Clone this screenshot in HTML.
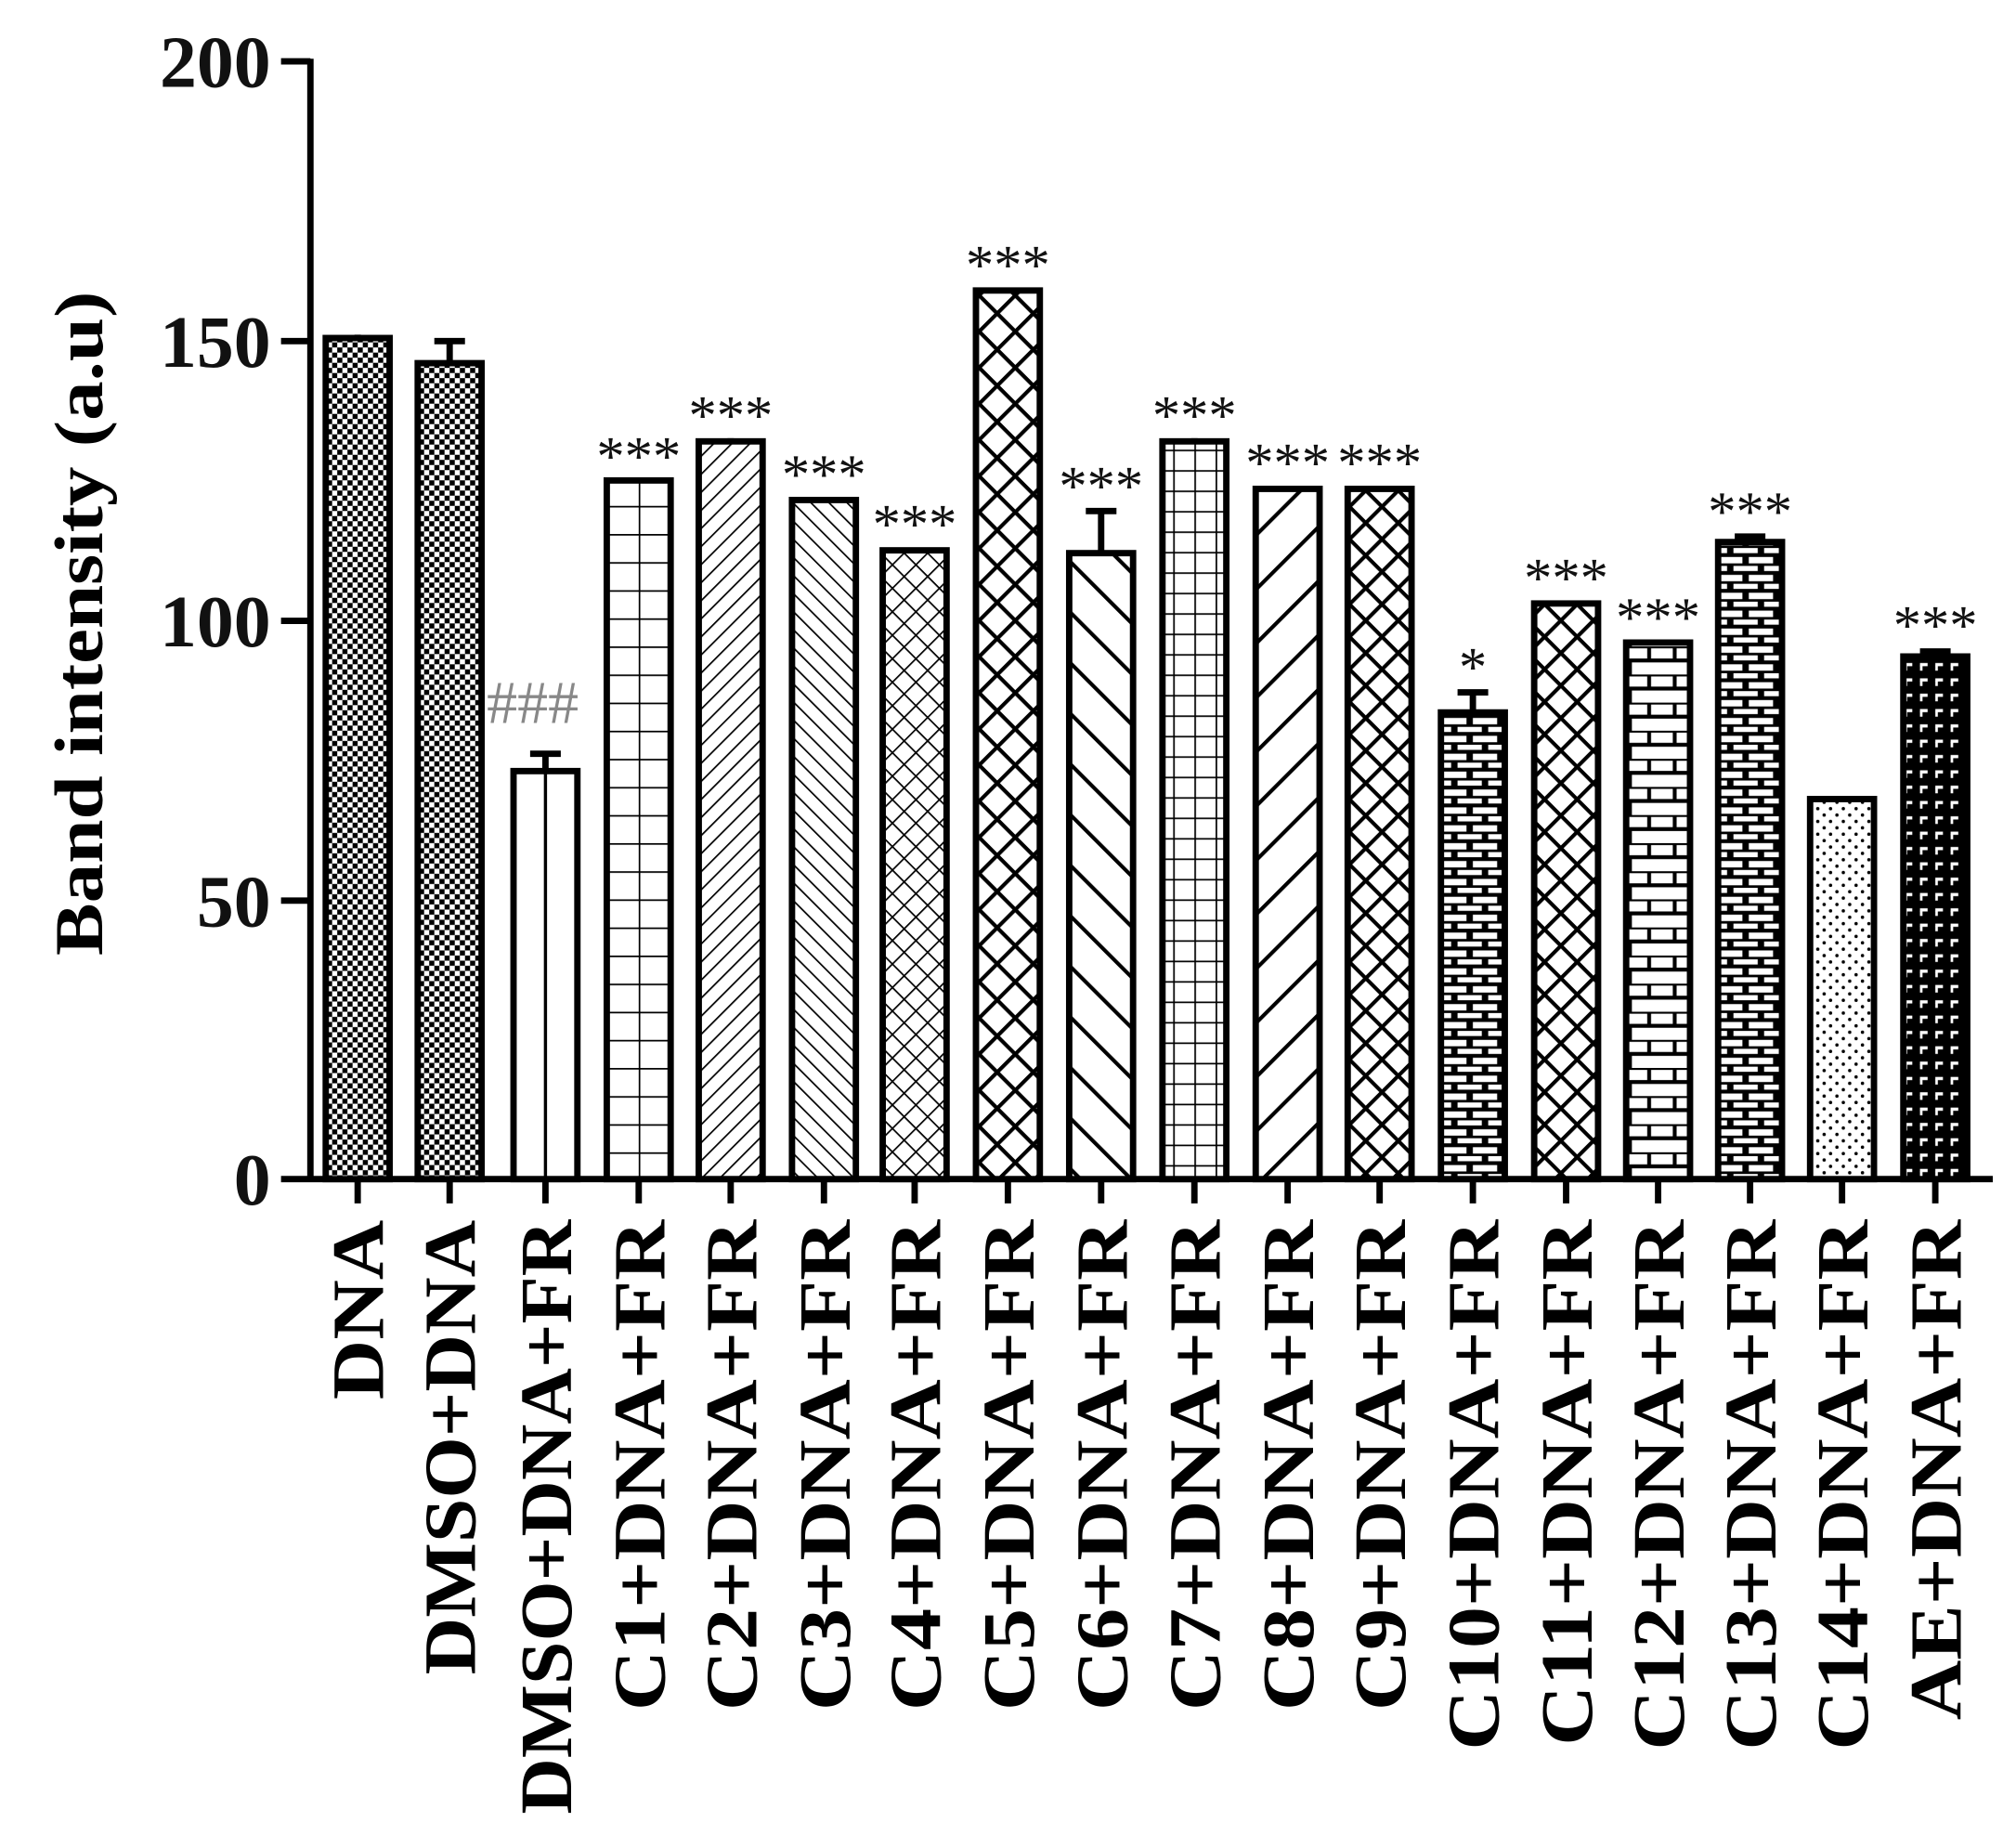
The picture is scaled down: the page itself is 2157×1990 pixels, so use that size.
<!DOCTYPE html>
<html><head><meta charset="utf-8"><style>html,body{margin:0;padding:0;background:#fff}svg{display:block}</style></head>
<body>
<svg width="2157" height="1990" viewBox="0 0 1568 1446.6" xmlns="http://www.w3.org/2000/svg" font-family="Liberation Serif, serif">
<defs>
<pattern id="chk" width="8" height="8" patternUnits="userSpaceOnUse"><rect width="8" height="8" fill="#fff"/><rect width="4" height="4" fill="#000"/><rect x="4" y="4" width="4" height="4" fill="#000"/></pattern>
<pattern id="grid1" x="500" width="25" height="22" patternUnits="userSpaceOnUse"><rect width="25" height="22" fill="#fff"/><path d="M0 0H25M0 0V22" stroke="#000" stroke-width="2.5"/></pattern>
<pattern id="dg1" width="10" height="10" patternUnits="userSpaceOnUse" patternTransform="rotate(45)"><rect width="10" height="10" fill="#fff"/><path d="M0 0V10" stroke="#000" stroke-width="2.5"/></pattern>
<pattern id="dg2" width="10" height="10" patternUnits="userSpaceOnUse" patternTransform="rotate(-45)"><rect width="10" height="10" fill="#fff"/><path d="M0 0V10" stroke="#000" stroke-width="2.5"/></pattern>
<pattern id="xs" width="13" height="13" patternUnits="userSpaceOnUse" patternTransform="rotate(45)"><rect width="13" height="13" fill="#fff"/><path d="M0 0V13M0 0H13" stroke="#000" stroke-width="2.5"/></pattern>
<pattern id="xb" x="764" width="20" height="20" patternUnits="userSpaceOnUse" patternTransform="rotate(45)"><rect width="20" height="20" fill="#fff"/><path d="M0 0V20M0 0H20" stroke="#000" stroke-width="6"/></pattern>
<pattern id="dt1" width="28" height="28" patternUnits="userSpaceOnUse" patternTransform="rotate(-45)"><rect width="28" height="28" fill="#fff"/><path d="M0 0V28" stroke="#000" stroke-width="6"/></pattern>
<pattern id="grid2" x="935" width="16.6" height="16" patternUnits="userSpaceOnUse"><rect width="17" height="16" fill="#fff"/><path d="M0 0H17M0 0V16" stroke="#000" stroke-width="2.5"/></pattern>
<pattern id="dt2" width="30" height="30" patternUnits="userSpaceOnUse" patternTransform="rotate(45)"><rect width="30" height="30" fill="#fff"/><path d="M0 0V30" stroke="#000" stroke-width="6"/></pattern>
<pattern id="xm" width="18" height="18" patternUnits="userSpaceOnUse" patternTransform="rotate(45)"><rect width="18" height="18" fill="#fff"/><path d="M0 0V18M0 0H18" stroke="#000" stroke-width="6"/></pattern>
<pattern id="brick" width="24" height="14" patternUnits="userSpaceOnUse"><rect width="24" height="14" fill="#000"/><rect x="1" y="2" width="19" height="5" fill="#fff"/><rect x="-11" y="9" width="19" height="4" fill="#fff"/><rect x="13" y="9" width="19" height="4" fill="#fff"/></pattern>
<pattern id="hbrick" x="1201" width="50" height="22" patternUnits="userSpaceOnUse"><rect width="50" height="22" fill="#fff"/><path d="M0 0H50M0 11H50M10 0V11M25 11V22M40 0V11" stroke="#000" stroke-width="3"/></pattern>
<pattern id="dots" width="10" height="10" patternUnits="userSpaceOnUse"><rect width="10" height="10" fill="#fff"/><circle cx="3" cy="3" r="1.3" fill="#000"/><circle cx="8" cy="8" r="1.3" fill="#000"/></pattern>
<pattern id="dark" width="12" height="12" patternUnits="userSpaceOnUse"><rect width="12" height="12" fill="#000"/><rect x="3" y="3" width="6" height="2.5" fill="#fff"/><rect x="3" y="5" width="2" height="4" fill="#fff"/></pattern>
</defs>
<rect width="1568" height="1447" fill="#fff"/>
<g stroke="#000" stroke-width="5" stroke-linecap="butt">
<line x1="243" y1="46" x2="243" y2="925"/>
<line x1="220" y1="923" x2="1560" y2="923"/>
<line x1="220" y1="48" x2="243" y2="48"/><line x1="220" y1="267" x2="243" y2="267"/><line x1="220" y1="486" x2="243" y2="486"/><line x1="220" y1="705" x2="243" y2="705"/>
<g>
<line x1="280" y1="923" x2="280" y2="942"/><line x1="352" y1="923" x2="352" y2="942"/><line x1="427" y1="923" x2="427" y2="942"/><line x1="500" y1="923" x2="500" y2="942"/><line x1="572" y1="923" x2="572" y2="942"/><line x1="645" y1="923" x2="645" y2="942"/><line x1="716" y1="923" x2="716" y2="942"/><line x1="789" y1="923" x2="789" y2="942"/><line x1="862" y1="923" x2="862" y2="942"/><line x1="935" y1="923" x2="935" y2="942"/><line x1="1008" y1="923" x2="1008" y2="942"/><line x1="1080" y1="923" x2="1080" y2="942"/><line x1="1153" y1="923" x2="1153" y2="942"/><line x1="1226" y1="923" x2="1226" y2="942"/><line x1="1298" y1="923" x2="1298" y2="942"/><line x1="1370" y1="923" x2="1370" y2="942"/><line x1="1442" y1="923" x2="1442" y2="942"/><line x1="1515" y1="923" x2="1515" y2="942"/>
</g>
<path d="M352 284V267M340 267H364 M427 603V590M415 590H439 M862 433V400M850 400H874 M1153 557V542M1141 542H1165 M1370 424V420M1358 420H1382 M1515 514V510M1503 510H1527 M280 264V262M500 376V374M572 345V343M789 227V225M935 345V343"/>
<rect x="255" y="264.6" width="50" height="658.4" fill="url(#chk)"/>
<rect x="327" y="284.3" width="50" height="638.7" fill="url(#chk)"/>
<rect x="402" y="603.6" width="50" height="319.4" fill="#fff"/>
<line x1="427" y1="604" x2="427" y2="923" stroke-width="2.5"/>
<rect x="475" y="376.1" width="50" height="546.9" fill="url(#grid1)"/>
<rect x="547" y="345.5" width="50" height="577.5" fill="url(#dg1)"/>
<rect x="620" y="391.4" width="50" height="531.6" fill="url(#dg2)"/>
<rect x="691" y="430.8" width="50" height="492.2" fill="url(#xs)"/>
<rect x="764" y="227.4" width="50" height="695.6" fill="url(#xb)"/>
<rect x="837" y="433" width="50" height="490" fill="url(#dt1)"/>
<rect x="910" y="345.5" width="50" height="577.5" fill="url(#grid2)"/>
<rect x="983" y="382.7" width="50" height="540.3" fill="url(#dt2)"/>
<rect x="1055" y="382.7" width="50" height="540.3" fill="url(#xm)"/>
<rect x="1128" y="557.7" width="50" height="365.3" fill="url(#brick)"/>
<rect x="1201" y="472.4" width="50" height="450.6" fill="url(#xm)"/>
<rect x="1273" y="503" width="50" height="420" fill="url(#hbrick)"/>
<rect x="1345" y="424.3" width="50" height="498.7" fill="url(#brick)"/>
<rect x="1417" y="625.5" width="50" height="297.5" fill="url(#dots)"/>
<rect x="1490" y="513.9" width="50" height="409.1" fill="url(#dark)"/>
</g>
<g font-weight="bold" font-size="58" text-anchor="end" fill="#111">
<text x="212" y="68">200</text><text x="212" y="287">150</text><text x="212" y="506">100</text><text x="212" y="725">50</text><text x="212" y="943">0</text>
</g>
<text transform="translate(80,488) rotate(-90)" text-anchor="middle" font-weight="bold" font-size="54" textLength="520" lengthAdjust="spacingAndGlyphs">Band intensity (a.u)</text>
<g font-size="44" text-anchor="middle" fill="#111">
<text x="500" y="372">***</text><text x="572" y="340">***</text><text x="645" y="386">***</text><text x="716" y="425">***</text><text x="789" y="222">***</text><text x="862" y="395">***</text><text x="935" y="340">***</text><text x="1008" y="377">***</text><text x="1080" y="377">***</text><text x="1153" y="537">*</text><text x="1226" y="467">***</text><text x="1298" y="498">***</text><text x="1370" y="415">***</text><text x="1515" y="504">***</text>
</g>
<text x="417" y="566" font-size="48" fill="#888" text-anchor="middle">###</text>
<g font-weight="bold" font-size="58" text-anchor="end">
<text transform="translate(300,955) rotate(-90) scale(1.12,1)">DNA</text>
<text transform="translate(372,955) rotate(-90) scale(1.07,1)">DMSO+DNA</text>
<text transform="translate(447,955) rotate(-90) scale(1.05,1)">DMSO+DNA+FR</text>
<text transform="translate(520,955) rotate(-90) scale(1.13,1)">C1+DNA+FR</text>
<text transform="translate(592,955) rotate(-90) scale(1.13,1)">C2+DNA+FR</text>
<text transform="translate(665,955) rotate(-90) scale(1.13,1)">C3+DNA+FR</text>
<text transform="translate(736,955) rotate(-90) scale(1.13,1)">C4+DNA+FR</text>
<text transform="translate(809,955) rotate(-90) scale(1.13,1)">C5+DNA+FR</text>
<text transform="translate(882,955) rotate(-90) scale(1.13,1)">C6+DNA+FR</text>
<text transform="translate(955,955) rotate(-90) scale(1.13,1)">C7+DNA+FR</text>
<text transform="translate(1028,955) rotate(-90) scale(1.13,1)">C8+DNA+FR</text>
<text transform="translate(1100,955) rotate(-90) scale(1.13,1)">C9+DNA+FR</text>
<text transform="translate(1173,955) rotate(-90) scale(1.125,1)">C10+DNA+FR</text>
<text transform="translate(1246,955) rotate(-90) scale(1.125,1)">C11+DNA+FR</text>
<text transform="translate(1318,955) rotate(-90) scale(1.125,1)">C12+DNA+FR</text>
<text transform="translate(1390,955) rotate(-90) scale(1.125,1)">C13+DNA+FR</text>
<text transform="translate(1462,955) rotate(-90) scale(1.125,1)">C14+DNA+FR</text>
<text transform="translate(1535,955) rotate(-90) scale(1.12,1)">AE+DNA+FR</text>
</g>
</svg>
</body></html>
